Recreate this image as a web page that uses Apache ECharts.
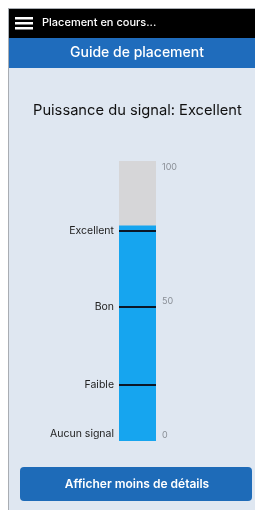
<!DOCTYPE html>
<html>
<head>
<meta charset="utf-8">
<script src="https://cdn.jsdelivr.net/npm/echarts@6/dist/echarts.min.js"></script>
<style>
  html, body { margin: 0; padding: 0; background: #fff; }
  #main { width: 255px; height: 510px; }
</style>
</head>
<body>
<div id="main"></div>
<script>
var categories = ['Signal'];
var signalValues = [77];
var thresholdValues = [75, 48, 20];
var levelValues = [0, 20, 48, 75];
var levelNames = ['Aucun signal', 'Faible', 'Bon', 'Excellent'];
var tickValues = [0, 50, 100];

var myChart = echarts.init(document.getElementById('main'));
var font = 'Inter, "Noto Sans", sans-serif';

var option = {
    backgroundColor: '#ffffff',
    animation: false,
    title: {
        text: 'Puissance du signal: Excellent',
        left: 28,
        top: 98,
        textStyle: { fontSize: 14.7, fontWeight: 'normal', color: '#111', fontFamily: font }
    },
    graphic: [
        { type: 'rect', z: -10, shape: { x: 9, y: 9, width: 246, height: 501 }, style: { fill: '#dfe7f1' } },
        { type: 'line', z: -9, shape: { x1: 8.5, y1: 8, x2: 8.5, y2: 510 }, style: { stroke: '#a9adb3', lineWidth: 1 } },
        { type: 'line', z: -9, shape: { x1: 8, y1: 8.5, x2: 255, y2: 8.5 }, style: { stroke: '#a9adb3', lineWidth: 1 } },
        { type: 'rect', shape: { x: 9, y: 9, width: 246, height: 29 }, style: { fill: '#000' } },
        { type: 'rect', shape: { x: 15, y: 17, width: 18, height: 2.5 }, style: { fill: '#fff' } },
        { type: 'rect', shape: { x: 15, y: 22, width: 18, height: 2.5 }, style: { fill: '#fff' } },
        { type: 'rect', shape: { x: 15, y: 27, width: 18, height: 2.5 }, style: { fill: '#fff' } },
        { type: 'text', left: 42, top: 17, style: { text: 'Placement en cours...', fill: '#fff', font: '500 11px ' + font } },
        { type: 'rect', shape: { x: 9, y: 38, width: 246, height: 30 }, style: { fill: '#1f6cbc' } },
        { type: 'text', x: 137, y: 53, style: { text: 'Guide de placement', fill: '#fff', font: '500 14px ' + font, align: 'center', verticalAlign: 'middle' } },
        { type: 'rect', shape: { x: 20, y: 467, width: 232, height: 34, r: 4 }, style: { fill: '#1e6bb8' } },
        { type: 'text', x: 137, y: 484, style: { text: 'Afficher moins de détails', fill: '#fff', font: '600 12px ' + font, align: 'center', verticalAlign: 'middle' } }
    ],
    grid: { left: 119, top: 161, width: 37, height: 280 },
    xAxis: {
        type: 'category',
        data: categories,
        show: false
    },
    yAxis: [
        {
            type: 'value',
            min: 0,
            max: 100,
            position: 'left',
            splitLine: { show: false },
            axisLine: { show: false },
            axisTick: { show: false },
            axisLabel: {
                customValues: levelValues,
                margin: 5,
                color: '#222',
                fontSize: 10.5,
                fontFamily: font,
                formatter: function (v) {
                    var i = levelValues.indexOf(v);
                    var name = i >= 0 ? levelNames[i] : '';
                    return v === 0 ? '{up|' + name + '}' : name;
                },
                rich: { up: { fontSize: 10.5, color: '#222', fontFamily: font, padding: [0, 0, 14, 0] } }
            }
        },
        {
            type: 'value',
            min: 0,
            max: 100,
            interval: 50,
            position: 'right',
            splitLine: { show: false },
            axisLine: { show: false },
            axisTick: { show: false },
            axisLabel: {
                customValues: tickValues,
                margin: 6,
                color: '#8a8f96',
                fontSize: 9,
                fontFamily: font,
                formatter: function (v) {
                    if (v === 100) return '{dn|' + v + '}';
                    if (v === 0) return '{up|' + v + '}';
                    return '' + v;
                },
                rich: {
                    dn: { fontSize: 9, color: '#8a8f96', fontFamily: font, padding: [12, 0, 0, 0] },
                    up: { fontSize: 9, color: '#8a8f96', fontFamily: font, padding: [0, 0, 12, 0] }
                }
            }
        }
    ],
    series: [
        {
            type: 'bar',
            data: signalValues,
            barWidth: 37,
            itemStyle: { color: '#16a5ef' },
            showBackground: true,
            backgroundStyle: { color: '#d6d6d8' },
            markLine: {
                symbol: 'none',
                silent: true,
                label: { show: false },
                lineStyle: { color: '#0b1626', width: 2, type: 'solid' },
                data: thresholdValues.map(function (v) { return { yAxis: v }; })
            }
        }
    ]
};

myChart.setOption(option);
</script>
</body>
</html>
